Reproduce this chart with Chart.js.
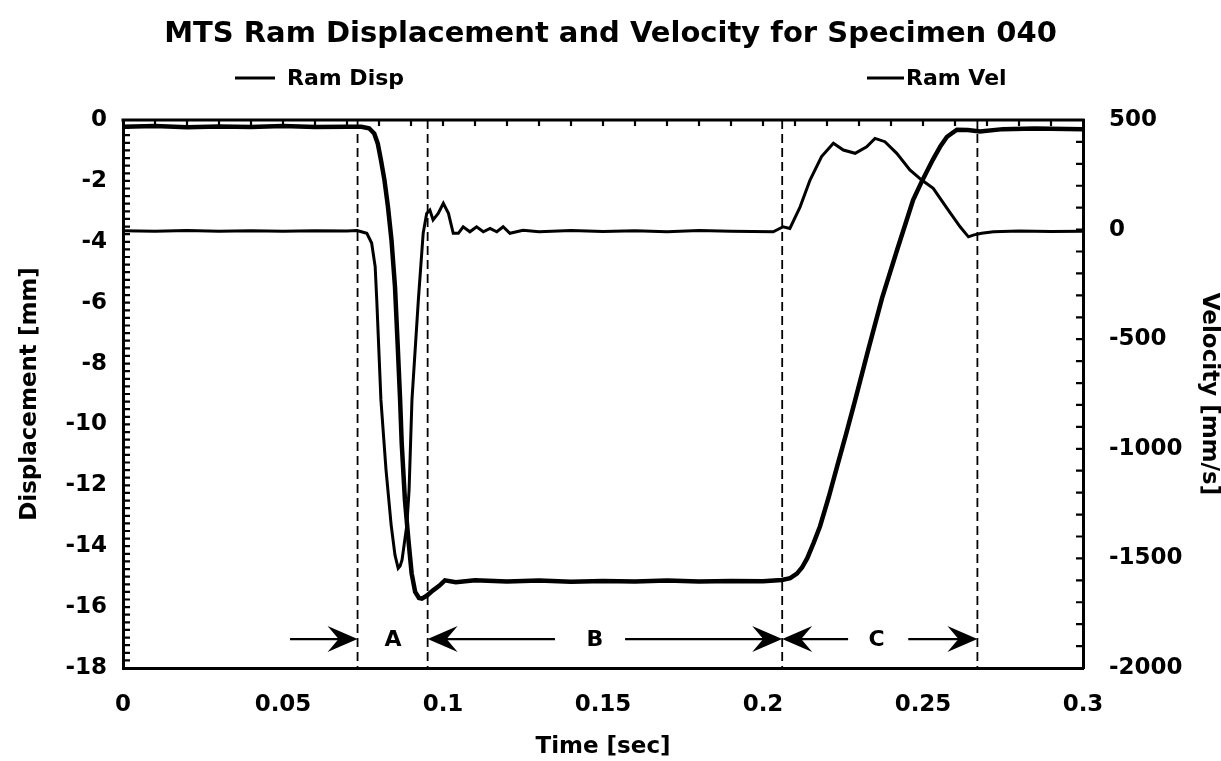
<!DOCTYPE html>
<html><head><meta charset="utf-8">
<script src="https://cdn.jsdelivr.net/npm/chart.js@4.4.0/dist/chart.umd.min.js"></script>
<style>html,body{margin:0;padding:0;background:#fff;}#wrap{width:1221px;height:761px;}</style>
</head><body><div id="wrap"><canvas id="c" width="1221" height="761"></canvas></div>
<script>
// ---- data ----
const dispTime = [0,0.01,0.02,0.03,0.04,0.05,0.06,0.07,0.0745,0.0769,0.0785,0.0796,0.0806,0.0817,0.0828,0.0839,0.0850,0.0858,0.0866,0.0871,0.0881,0.0892,0.0902,0.0913,0.0925,0.0934,0.0950,0.0969,0.0988,0.1006,0.104,0.11,0.12,0.13,0.14,0.15,0.16,0.17,0.18,0.19,0.20,0.2059,0.2085,0.2106,0.2122,0.2138,0.2158,0.2178,0.2205,0.2231,0.2260,0.2288,0.2330,0.2372,0.2419,0.2469,0.2497,0.2531,0.2555,0.2575,0.2606,0.264,0.2678,0.275,0.285,0.3];
const dispValues = [-0.22,-0.2,-0.24,-0.21,-0.23,-0.2,-0.23,-0.22,-0.22,-0.27,-0.44,-0.77,-1.31,-1.97,-2.85,-3.94,-5.48,-7.3,-9.2,-10.62,-12.48,-13.8,-14.89,-15.5,-15.7,-15.72,-15.62,-15.45,-15.3,-15.12,-15.18,-15.12,-15.16,-15.13,-15.17,-15.14,-15.16,-15.13,-15.16,-15.14,-15.15,-15.11,-15.05,-14.9,-14.7,-14.4,-13.9,-13.35,-12.4,-11.4,-10.3,-9.2,-7.5,-5.85,-4.27,-2.63,-2.0,-1.3,-0.85,-0.55,-0.32,-0.33,-0.38,-0.3,-0.28,-0.3];
const velTime = [0,0.01,0.02,0.03,0.04,0.05,0.06,0.07,0.0731,0.0745,0.0762,0.0777,0.0788,0.0793,0.0806,0.0822,0.0838,0.0850,0.0860,0.0866,0.0872,0.0887,0.0894,0.0903,0.0923,0.0938,0.0949,0.0959,0.0969,0.0985,0.1001,0.1017,0.1032,0.1048,0.1063,0.1084,0.1105,0.1126,0.1147,0.1168,0.1188,0.1209,0.125,0.13,0.14,0.15,0.16,0.17,0.18,0.19,0.2032,0.2063,0.2084,0.2116,0.2147,0.2183,0.2220,0.2251,0.2288,0.2324,0.2350,0.2381,0.2418,0.2459,0.2496,0.2532,0.2579,0.2616,0.2642,0.2657,0.2683,0.2720,0.28,0.29,0.3];
const velValues = [-5,-8,-4,-7,-5,-8,-5,-6,-4,-10,-17,-61,-169,-321,-777,-1097,-1348,-1485,-1545,-1535,-1507,-1348,-1188,-777,-321,-17,74,89,44,74,120,74,-17,-17,13,-10,13,-10,5,-10,13,-17,-3,-10,-4,-9,-5,-10,-4,-8,-10,13,5,104,226,333,394,363,348,378,416,401,348,272,226,188,89,13,-33,-25,-17,-10,-6,-9,-7];
// phase boundaries (dashed lines) and A/B/C annotation
const boundaryTimes = [0.0733, 0.0952, 0.206, 0.267];
const regionLabels = ['A', 'B', 'C'];
const regionLabelTimes = [0.0844, 0.1475, 0.2355];
const arrowFrom = [0.0522, 0.135, 0.1569, 0.2266, 0.2454];
const arrowTo   = [0.0733, 0.0952, 0.206, 0.206, 0.267];
const arrowLevel = -17.05;

const FONT = "'DejaVu Sans', sans-serif";
Chart.defaults.font.family = FONT;
Chart.defaults.font.weight = 'bold';
Chart.defaults.color = '#000';

const framePlugin = {
  id: 'frame',
  afterDatasetsDraw(chart) {
    const c = chart.ctx, a = chart.chartArea;
    const xs = chart.scales.x, ys = chart.scales.y, y1 = chart.scales.y1;
    c.save();
    c.strokeStyle = '#000'; c.fillStyle = '#000';
    // top border
    c.lineWidth = 3;
    c.beginPath(); c.moveTo(a.left - 1.5, a.top); c.lineTo(a.right + 1.5, a.top); c.stroke();
    // inward minor ticks
    c.lineWidth = 2.2;
    c.beginPath();
    for (let i = 1; i < 30; i++) { const x = xs.getPixelForValue(i * 0.01); c.moveTo(x, a.top); c.lineTo(x, a.top + 6); }
    for (let i = 1; i < 72; i++) { const y = ys.getPixelForValue(-i * 0.25); c.moveTo(a.left, y); c.lineTo(a.left + 7, y); }
    for (let i = 1; i < 25; i++) { const y = y1.getPixelForValue(500 - i * 100); c.moveTo(a.right, y); c.lineTo(a.right - 7, y); }
    c.stroke();
    // dashed boundaries
    c.lineWidth = 1.8; c.setLineDash([9, 5]);
    boundaryTimes.forEach(t => { const x = xs.getPixelForValue(t); c.beginPath(); c.moveTo(x, a.top); c.lineTo(x, a.bottom); c.stroke(); });
    c.setLineDash([]);
    // arrows
    const ay = ys.getPixelForValue(arrowLevel);
    c.lineWidth = 2.2;
    for (let i = 0; i < arrowFrom.length; i++) {
      const x0 = xs.getPixelForValue(arrowFrom[i]), x1 = xs.getPixelForValue(arrowTo[i]);
      const d = Math.sign(x1 - x0);
      c.beginPath(); c.moveTo(x0, ay); c.lineTo(x1 - d * 12, ay); c.stroke();
      c.beginPath(); c.moveTo(x1, ay); c.lineTo(x1 - d * 30, ay - 13); c.lineTo(x1 - d * 19, ay); c.lineTo(x1 - d * 30, ay + 13); c.closePath(); c.fill();
    }
    c.font = 'bold 22px ' + FONT; c.textAlign = 'center'; c.textBaseline = 'middle';
    regionLabels.forEach((s, i) => c.fillText(s, xs.getPixelForValue(regionLabelTimes[i]), ay + 1));
    // legend
    const ds = chart.data.datasets;
    c.font = 'bold 22px ' + FONT; c.textAlign = 'left';
    c.lineWidth = 3;
    c.beginPath(); c.moveTo(235, 78); c.lineTo(275, 78); c.stroke();
    c.fillText(ds[0].label, 287, 79);
    c.beginPath(); c.moveTo(867, 78); c.lineTo(904, 78); c.stroke();
    c.fillText(ds[1].label, 906, 79);
    c.restore();
  }
};

new Chart(document.getElementById('c'), {
  type: 'line',
  data: { datasets: [
    { label: 'Ram Disp', data: dispTime.map((t, i) => ({ x: t, y: dispValues[i] })), yAxisID: 'y', borderColor: '#000', borderWidth: 4.5, pointRadius: 0, tension: 0, fill: false },
    { label: 'Ram Vel', data: velTime.map((t, i) => ({ x: t, y: velValues[i] })), yAxisID: 'y1', borderColor: '#000', borderWidth: 3, pointRadius: 0, tension: 0, fill: false }
  ]},
  options: {
    responsive: false, animation: false, devicePixelRatio: 1,
    layout: { padding: 0 },
    plugins: {
      legend: { display: false }, tooltip: { enabled: false },
      title: { display: true, text: 'MTS Ram Displacement and Velocity for Specimen 040', color: '#000',
        font: { size: 29, weight: 'bold', family: FONT }, padding: { top: 17, bottom: 68.2 } }
    },
    scales: {
      x: { type: 'linear', min: 0, max: 0.3,
        ticks: { stepSize: 0.05, font: { size: 23 }, padding: 15, maxRotation: 0, callback: v => String(Math.round(v * 100) / 100) },
        grid: { display: false }, border: { display: true, width: 3, color: '#000' },
        title: { display: true, text: 'Time [sec]', font: { size: 23 }, padding: { top: 0, bottom: 0 } },
        afterFit: s => { s.height = 93; } },
      y: { position: 'left', min: -18, max: 0,
        ticks: { stepSize: 2, font: { size: 23 }, padding: 8, callback: v => String(v) },
        grid: { display: false }, border: { display: true, width: 3, color: '#000' },
        title: { display: true, text: 'Displacement [mm]', font: { size: 23 }, padding: { top: 16, bottom: 0 } },
        afterFit: s => { s.width = 123; } },
      y1: { position: 'right', min: -2000, max: 500,
        ticks: { stepSize: 500, font: { size: 23 }, padding: 18, callback: v => String(v) },
        grid: { display: false }, border: { display: true, width: 3, color: '#000' },
        title: { display: true, text: 'Velocity [mm/s]', font: { size: 23 }, padding: { top: -2, bottom: 0 } },
        afterFit: s => { s.width = 138; } }
    }
  },
  plugins: [framePlugin]
});
</script></body></html>
